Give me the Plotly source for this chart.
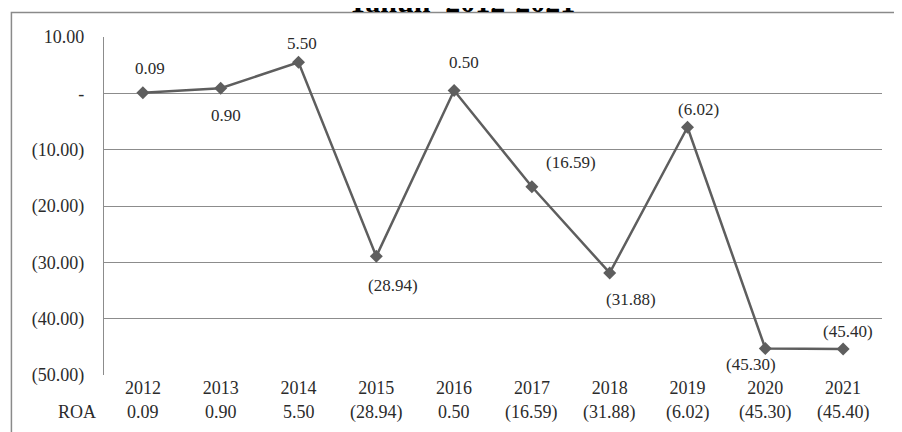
import plotly.graph_objects as go

years = ["2012", "2013", "2014", "2015", "2016", "2017", "2018", "2019", "2020", "2021"]
roa = [0.09, 0.90, 5.50, -28.94, 0.50, -16.59, -31.88, -6.02, -45.30, -45.40]
y_ticks = [10, 0, -10, -20, -30, -40, -50]
title_text = "Tahun  2012-2021"
row_label = "ROA"

# label offsets (pixels) for data labels
label_shift = [(7, 24), (5, -27), (3, 19), (17, -29), (10, 28), (39, 24), (21, -27), (11, 18), (-14, -16), (5, 18)]


def fmt(v):
    if v == 0:
        return "-"
    s = f"{abs(v):,.2f}"
    return f"({s})" if v < 0 else s


FONT = "Liberation Serif, Times New Roman, serif"
LINE = "#5e5e5e"
TXT = "#2b2b2b"

fig = go.Figure()
fig.add_trace(go.Scatter(
    x=list(range(len(years))), y=roa, mode="lines+markers",
    line=dict(color=LINE, width=2.5),
    marker=dict(symbol="diamond", size=10, color=LINE),
    hoverinfo="skip", showlegend=False,
))

ann = []
for i, v in enumerate(roa):
    dx, dy = label_shift[i]
    ann.append(dict(x=i, y=v, xref="x", yref="y", text=fmt(v), showarrow=False,
                    xshift=dx, yshift=dy, font=dict(family=FONT, size=17, color=TXT)))
    ann.append(dict(x=i, y=-0.11, xref="x", yref="paper", text=fmt(v), showarrow=False,
                    yanchor="middle", font=dict(family=FONT, size=18, color=TXT)))
ann.append(dict(x=-0.008, y=-0.11, xref="paper", yref="paper", text=row_label, showarrow=False,
                xanchor="right", yanchor="middle", font=dict(family=FONT, size=18, color=TXT)))
ann.append(dict(x=0.46, y=1.051, xref="paper", yref="paper", text="<b>" + title_text + "</b>",
                showarrow=False, xanchor="center", yanchor="bottom",
                font=dict(family=FONT, size=30, color="#000000")))

fig.update_layout(
    width=902, height=432,
    margin=dict(l=96, r=28, t=29, b=65),
    paper_bgcolor="white", plot_bgcolor="white",
    annotations=ann,
    shapes=[dict(type="rect", xref="paper", yref="paper", x0=-0.119, x1=1.1, y0=-0.3, y1=1.0725,
                 line=dict(color="#8a8a8a", width=1.5))],
    xaxis=dict(
        range=[-0.5, len(years) - 0.5], tickmode="array",
        tickvals=list(range(len(years))), ticktext=years,
        showgrid=False, zeroline=False, showline=False, ticks="",
        tickfont=dict(family=FONT, size=18, color=TXT),
    ),
    yaxis=dict(
        range=[-50, 10], tickmode="array", tickvals=y_ticks,
        ticktext=[fmt(t) for t in y_ticks],
        showgrid=True, gridcolor="#8c8c8c", gridwidth=1.2,
        zeroline=False, showline=True, linecolor="#8c8c8c", linewidth=1.2,
        ticks="", ticklabelstandoff=15,
        tickfont=dict(family=FONT, size=18, color=TXT),
    ),
)

fig.write_html("out.html")
